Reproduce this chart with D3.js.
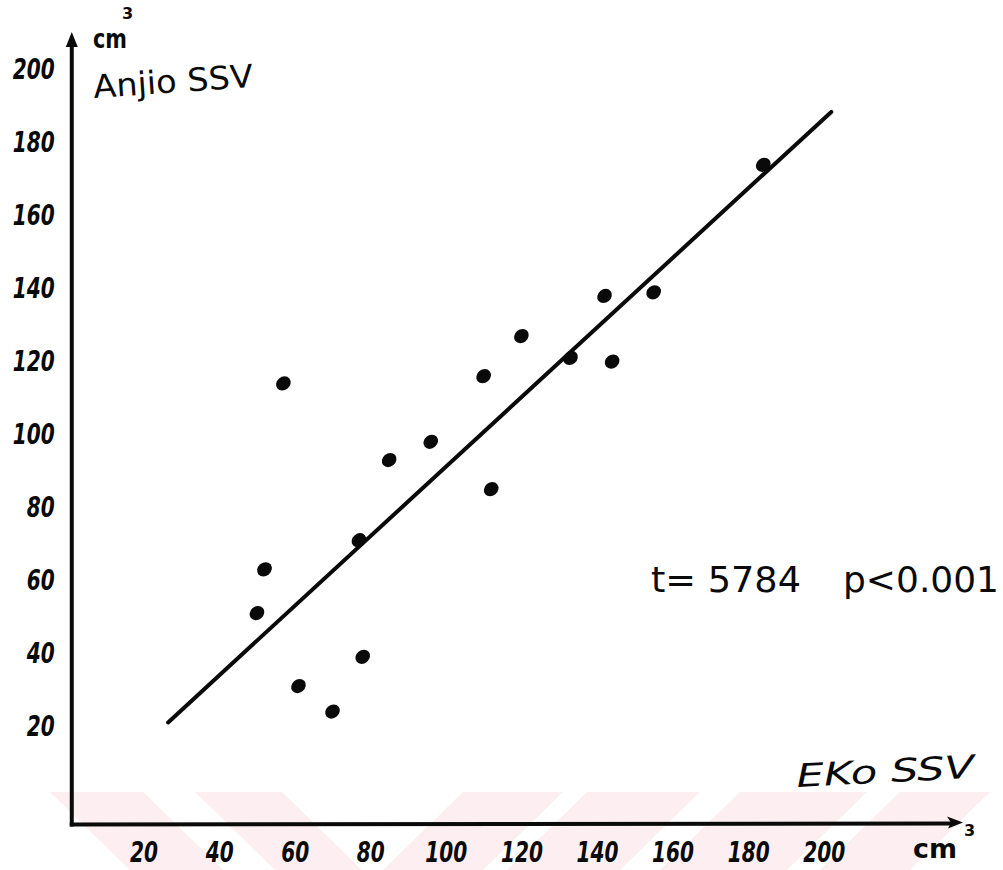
<!DOCTYPE html>
<html><head><meta charset="utf-8">
<script src="https://cdn.jsdelivr.net/npm/d3@7"></script>
<style>body{margin:0;background:#fff}svg{display:block}</style>
</head><body><svg id="c" width="1003" height="870"></svg>
<script>
// ---- data ----
const xTicks = [20, 40, 60, 80, 100, 120, 140, 160, 180, 200];
const yTicks = [20, 40, 60, 80, 100, 120, 140, 160, 180, 200];
const ekoSSV   = [57, 184, 142, 155, 120, 133, 144, 110, 96, 85, 112, 77, 52, 50, 78, 61, 70];
const anjioSSV = [114, 174, 138, 139, 127, 121, 120, 116, 98, 93, 85, 71, 63, 51, 39, 31, 24];
const fitX = [26.5, 202];
const fitY = [21, 188.5];
const statLeft = "t= 5784";
const statRight = "p<0.001";
const xTitle = "EKo SSV";
const yTitle = "Anjio SSV";
const unit = "cm";

const svg = d3.select("#c");
const x = d3.scaleLinear().domain([0, 200]).range([68, 823.7]);
const y = d3.scaleLinear().domain([0, 200]).range([799, 70]);
const ink = "#0a0a0a";
const hand = "'DejaVu Sans', 'Liberation Sans', sans-serif";

// faint watermark band
const wm = svg.append("g").attr("fill", "#fdeef1");
const bandTop = 792, bandBot = 870, sh = 80;
[[50,143],[195,282]].forEach(([a,b]) => {
  wm.append("polygon").attr("points", `${a},${bandTop} ${b},${bandTop} ${b+sh},${bandBot} ${a+sh},${bandBot}`);
});
[[463,563],[587,700],[740,867],[900,990]].forEach(([a,b]) => {
  wm.append("polygon").attr("points", `${a},${bandTop} ${b},${bandTop} ${b-sh},${bandBot} ${a-sh},${bandBot}`);
});

const ax0 = x(1), ay0 = y(-7);

// axes lines with arrows
svg.append("line").attr("x1", ax0).attr("y1", ay0 + 2).attr("x2", ax0).attr("y2", 40)
  .attr("stroke", ink).attr("stroke-width", 4);
svg.append("path").attr("d", `M${ax0-6},${47} L${ax0},${32} L${ax0+6},${47} Z`).attr("fill", ink);
svg.append("line").attr("x1", ax0 - 2).attr("y1", ay0).attr("x2", 955).attr("y2", ay0 - 1)
  .attr("stroke", ink).attr("stroke-width", 4);
svg.append("path").attr("d", `M${947},${ay0-8} L${963},${ay0-2} L${948},${ay0+4} L${951},${ay0-2} Z`).attr("fill", ink);

// tick labels via d3 axes
const xa = svg.append("g").attr("transform", `translate(0,${ay0})`)
  .call(d3.axisBottom(x).tickValues(xTicks).tickSize(0).tickPadding(18).tickFormat(d3.format("d")));
xa.select(".domain").remove();
const ya = svg.append("g").attr("transform", `translate(${ax0},0)`)
  .call(d3.axisLeft(y).tickValues(yTicks).tickSize(0).tickPadding(17).tickFormat(d3.format("d")));
ya.select(".domain").remove();
svg.selectAll(".tick text")
  .attr("font-family", hand).attr("font-size", 28).attr("font-weight", "bold").attr("font-style", "italic")
  .attr("fill", ink)
  .attr("textLength", function(){ return this.textContent.length * 14; })
  .attr("lengthAdjust", "spacingAndGlyphs");

// regression line
svg.append("line")
  .attr("x1", x(fitX[0])).attr("y1", y(fitY[0]))
  .attr("x2", x(fitX[1])).attr("y2", y(fitY[1]))
  .attr("stroke", ink).attr("stroke-width", 4).attr("stroke-linecap", "round");

// points
const pts = ekoSSV.map((v, i) => ({ x: v, y: anjioSSV[i] }));
svg.append("g").selectAll("ellipse").data(pts).join("ellipse")
  .attr("cx", d => x(d.x)).attr("cy", d => y(d.y))
  .attr("rx", 7.8).attr("ry", 6.6)
  .attr("transform", d => `rotate(-40 ${x(d.x)} ${y(d.y)})`)
  .attr("fill", ink);

// titles / units
const t = (txt, px, py, size, opts = {}) => {
  const el = svg.append("text").attr("x", px).attr("y", py).text(txt)
    .attr("font-family", hand).attr("font-size", size).attr("fill", ink)
    .attr("font-weight", opts.weight || "normal").attr("font-style", opts.style || "normal");
  if (opts.len) el.attr("textLength", opts.len).attr("lengthAdjust", "spacingAndGlyphs");
  if (opts.rot) el.attr("transform", `rotate(${opts.rot} ${px} ${py})`);
  return el;
};
t(unit, 93, 48, 26, { weight: "bold", len: 34 });
t("3", 122, 19, 16, { weight: "bold" });
t(yTitle, 94, 98, 32, { len: 160, rot: -4 });
t(xTitle, 797, 787, 32, { style: "italic", len: 178, rot: -3 });
t(unit, 913, 858, 27, { weight: "bold", len: 44 });
t("3", 964, 836, 16, { weight: "bold" });
t(statLeft, 651, 592, 36, { len: 150 });
t(statRight, 843, 592, 36, { len: 156 });
</script>
</body></html>
